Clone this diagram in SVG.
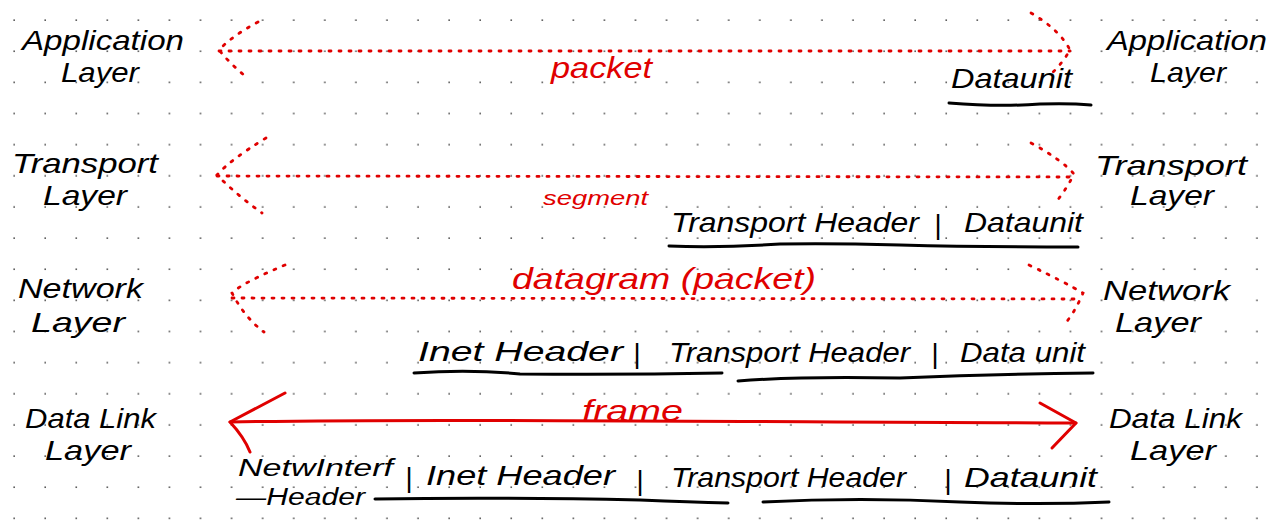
<svg xmlns="http://www.w3.org/2000/svg" width="1271" height="529" viewBox="0 0 1271 529">
<style>
.t{font-family:"Liberation Sans",Arial,sans-serif;font-style:italic;fill:#000}
.lab{font-size:28px}
.pk{font-size:28px}
.sm{font-size:23px}
.r{font-family:"Liberation Sans",Arial,sans-serif;font-style:italic;fill:#e00000}
.dot{fill:none;stroke:#e00000;stroke-width:2.8;stroke-linecap:round;stroke-dasharray:2 8}
.sol{fill:none;stroke:#e00000;stroke-width:3;stroke-linecap:round;stroke-linejoin:round}
.ul{fill:none;stroke:#000;stroke-width:3;stroke-linecap:round}
</style>
<defs>
<pattern id="grid" patternUnits="userSpaceOnUse" x="13" y="19" width="31.07" height="31.14">
<rect x="0.4" y="0.4" width="1.5" height="1.5" fill="#444"/>
</pattern>
</defs>
<rect width="1271" height="529" fill="#fff"/>
<rect width="1271" height="529" fill="url(#grid)"/>

<g id="app-left"><text class="t lab" x="22" y="50" textLength="162" lengthAdjust="spacingAndGlyphs">Application</text><text class="t lab" x="61" y="82" textLength="78" lengthAdjust="spacingAndGlyphs">Layer</text></g>
<g id="app-right"><text class="t lab" x="1107" y="50" textLength="160" lengthAdjust="spacingAndGlyphs">Application</text><text class="t lab" x="1150" y="82" textLength="76" lengthAdjust="spacingAndGlyphs">Layer</text></g>
<g id="trans-left"><text class="t lab" x="12" y="173" textLength="146" lengthAdjust="spacingAndGlyphs">Transport</text><text class="t lab" x="43" y="205" textLength="84" lengthAdjust="spacingAndGlyphs">Layer</text></g>
<g id="trans-right"><text class="t lab" x="1095" y="175" textLength="152" lengthAdjust="spacingAndGlyphs">Transport</text><text class="t lab" x="1130" y="205" textLength="84" lengthAdjust="spacingAndGlyphs">Layer</text></g>
<g id="net-left"><text class="t lab" x="18" y="298" textLength="125" lengthAdjust="spacingAndGlyphs">Network</text><text class="t lab" x="31" y="332" textLength="94" lengthAdjust="spacingAndGlyphs">Layer</text></g>
<g id="net-right"><text class="t lab" x="1103" y="300" textLength="127" lengthAdjust="spacingAndGlyphs">Network</text><text class="t lab" x="1115" y="332" textLength="86" lengthAdjust="spacingAndGlyphs">Layer</text></g>
<g id="link-left"><text class="t lab" x="25" y="428" textLength="131" lengthAdjust="spacingAndGlyphs">Data Link</text><text class="t lab" x="45" y="460" textLength="86" lengthAdjust="spacingAndGlyphs">Layer</text></g>
<g id="link-right"><text class="t lab" x="1109" y="428" textLength="133" lengthAdjust="spacingAndGlyphs">Data Link</text><text class="t lab" x="1130" y="460" textLength="86" lengthAdjust="spacingAndGlyphs">Layer</text></g>

<g id="pdu-app">
<text class="t pk" x="951" y="88" textLength="121" lengthAdjust="spacingAndGlyphs">Dataunit</text>
<path class="ul" d="M949 103 Q1000 107 1040 104 Q1070 103 1091 105"/>
</g>
<g id="pdu-trans">
<text class="t pk" x="671" y="232" textLength="248" lengthAdjust="spacingAndGlyphs">Transport Header</text>
<text class="t pk" x="934" y="234">|</text>
<text class="t pk" x="964" y="232" textLength="119" lengthAdjust="spacingAndGlyphs">Dataunit</text>
<path class="ul" d="M669 246 Q720 248 780 244 Q830 243 900 245 Q980 247 1078 247"/>
</g>
<g id="pdu-net">
<text class="t pk" x="418" y="361" textLength="205" lengthAdjust="spacingAndGlyphs">Inet Header</text>
<text class="t pk" x="633" y="363">|</text>
<text class="t pk" x="669" y="362" textLength="241" lengthAdjust="spacingAndGlyphs">Transport Header</text>
<text class="t pk" x="931" y="363">|</text>
<text class="t pk" x="960" y="362" textLength="125" lengthAdjust="spacingAndGlyphs">Data unit</text>
<path class="ul" d="M414 373 Q470 369 520 374 Q620 375 722 373"/>
<path class="ul" d="M738 381 Q800 376 900 378 Q1000 374 1093 373"/>
</g>
<g id="pdu-link">
<text class="t sm" x="238" y="476" textLength="155" lengthAdjust="spacingAndGlyphs">NetwInterf</text>
<text class="t sm" x="236" y="505" textLength="129" lengthAdjust="spacingAndGlyphs">—Header</text>
<text class="t pk" x="405" y="487">|</text>
<text class="t pk" x="426" y="485" textLength="189" lengthAdjust="spacingAndGlyphs">Inet Header</text>
<text class="t pk" x="636" y="490">|</text>
<text class="t pk" x="671" y="487" textLength="235" lengthAdjust="spacingAndGlyphs">Transport Header</text>
<text class="t pk" x="944" y="489">|</text>
<text class="t pk" x="964" y="487" textLength="133" lengthAdjust="spacingAndGlyphs">Dataunit</text>
<path class="ul" d="M375 499 Q500 497 640 500 Q690 502 728 503"/>
<path class="ul" d="M763 502 Q860 497 960 502 Q1040 505 1109 502"/>
</g>

<g id="connectors">
<path class="dot" d="M219 51 L1070 51"/>
<path class="dot" d="M258 22 Q232 36 219 50 Q232 66 249 79"/>
<path class="dot" d="M1031 13 Q1060 30 1070 50 Q1062 64 1050 75"/>
<text class="r" x="551" y="78" font-size="30" textLength="101" lengthAdjust="spacingAndGlyphs">packet</text>

<path class="dot" d="M217 176 L1074 177"/>
<path class="dot" d="M266 138 Q230 160 217 175 Q238 196 262 213"/>
<path class="dot" d="M1031 143 Q1062 160 1074 174 Q1066 190 1056 202"/>
<text class="r" x="543" y="205" font-size="21" textLength="105" lengthAdjust="spacingAndGlyphs">segment</text>

<path class="dot" d="M232 298 L1080 299"/>
<path class="dot" d="M285 265 Q242 283 232 293 Q245 318 264 332"/>
<path class="dot" d="M1029 265 Q1066 283 1083 293 Q1075 312 1064 325"/>
<text class="r" x="512" y="289" font-size="30" textLength="304" lengthAdjust="spacingAndGlyphs">datagram (packet)</text>

<path class="sol" d="M230 422 C400 419 600 421 1076 423"/>
<path class="sol" d="M285 393 L230 422 Q244 437 250 452"/>
<path class="sol" d="M1040 403 L1076 423 L1052 448"/>
<text class="r" x="582" y="421" font-size="30" textLength="101" lengthAdjust="spacingAndGlyphs">frame</text>
</g>
</svg>
